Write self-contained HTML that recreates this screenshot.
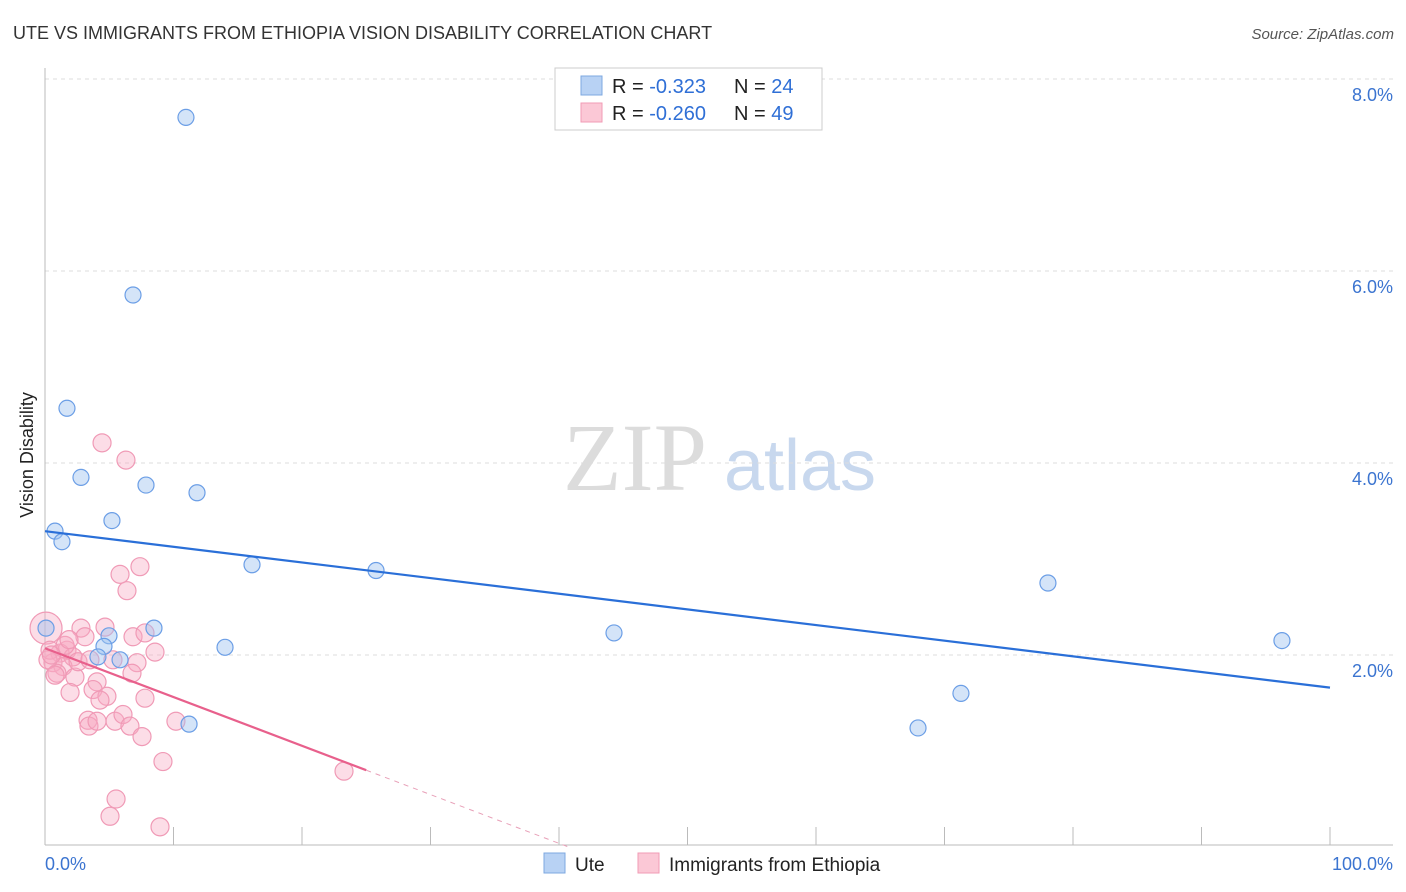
<!DOCTYPE html>
<html><head><meta charset="utf-8"><style>
body{margin:0;background:#fff;font-family:"Liberation Sans",sans-serif;}
svg{display:block}
</style></head><body>
<svg id="chart" width="1406" height="892">
<text x="13" y="39" font-size="18" fill="#333">UTE VS IMMIGRANTS FROM ETHIOPIA VISION DISABILITY CORRELATION CHART</text>
<text x="1394" y="39" font-size="15" fill="#555" font-style="italic" text-anchor="end">Source: ZipAtlas.com</text>
<text transform="translate(33,455) rotate(-90)" font-size="18" fill="#222" text-anchor="middle">Vision Disability</text>
<g>
<text x="635" y="490" font-size="96" fill="#dcdcdc" font-family="Liberation Serif,serif" text-anchor="middle">ZIP</text>
<text x="800" y="490" font-size="72" fill="#c8d8ee" text-anchor="middle">atlas</text>
</g>
<g id="grid"></g><g id="axes"></g><g id="marks"></g>
<g>
<rect x="555" y="68" width="267" height="62" fill="#fff" stroke="#ccc"/>
<rect x="581" y="76" width="21" height="19" fill="#b8d2f4" stroke="#7ea8e0"/>
<rect x="581" y="103" width="21" height="19" fill="#fbc8d6" stroke="#f19bb5"/>
<text x="612" y="93" font-size="20" fill="#222">R = <tspan fill="#2f6fd6">-0.323</tspan><tspan x="734">N = </tspan><tspan fill="#2f6fd6">24</tspan></text>
<text x="612" y="120" font-size="20" fill="#222">R = <tspan fill="#2f6fd6">-0.260</tspan><tspan x="734">N = </tspan><tspan fill="#2f6fd6">49</tspan></text>
</g>
<g>
<rect x="544" y="853" width="21" height="20" fill="#b8d2f4" stroke="#7ea8e0"/>
<text x="575" y="871" font-size="19" fill="#222">Ute</text>
<rect x="638" y="853" width="21" height="20" fill="#fbc8d6" stroke="#f19bb5"/>
<text x="669" y="871" font-size="19" fill="#222">Immigrants from Ethiopia</text>
</g>
<text x="45" y="870" font-size="18" fill="#3b74d0">0.0%</text>
<text x="1393" y="870" font-size="18" fill="#3b74d0" text-anchor="end">100.0%</text>
</svg>
<script>
const yTicks=[2,4,6,8];
const yTickLabels=["2.0%","4.0%","6.0%","8.0%"];
const xTicks=[10,20,30,40,50,60,70,80,90,100];
const uteX=[10.97,6.85,1.71,2.80,7.86,11.83,5.21,0.78,1.32,16.11,25.76,78.05,8.48,0.08,4.98,44.28,4.59,14.01,96.26,4.12,5.84,71.28,11.21,67.94];
const uteY=[7.60,5.75,4.57,3.85,3.77,3.69,3.40,3.29,3.18,2.94,2.88,2.75,2.28,2.28,2.20,2.23,2.09,2.08,2.15,1.98,1.95,1.60,1.28,1.24];
const ethX=[4.44,6.30,5.84,7.39,6.38,0.08,2.80,4.67,3.11,6.85,7.78,8.56,1.71,1.17,2.18,0.62,1.40,0.93,2.33,5.29,7.16,6.77,4.05,1.95,3.74,4.82,4.28,7.78,3.35,3.42,4.05,5.45,6.07,6.61,7.55,10.19,9.18,23.27,5.53,5.06,8.95,0.39,1.56,0.23,2.57,1.87,0.78,3.50,0.5];
const ethY=[4.21,4.03,2.84,2.92,2.67,2.28,2.28,2.29,2.19,2.19,2.23,2.03,2.05,2.02,1.98,1.92,1.88,1.81,1.77,1.95,1.92,1.81,1.72,1.61,1.64,1.57,1.53,1.55,1.32,1.26,1.31,1.31,1.38,1.26,1.15,1.31,0.89,0.79,0.50,0.32,0.21,2.05,2.10,1.95,1.93,2.16,1.79,1.95,2.0];
const uteTrend=[3.29,1.66];   // y at x=0 and x=100
const ethTrend=[2.07,-0.0508]; // intercept, slope per %
const NS="http://www.w3.org/2000/svg";
const X=v=>45+v*12.85, Y=v=>847-v*96;
function mk(tag,attrs,parent){const e=document.createElementNS(NS,tag);for(const k in attrs)e.setAttribute(k,attrs[k]);parent.appendChild(e);return e;}
const grid=document.getElementById('grid'),axes=document.getElementById('axes'),marks=document.getElementById('marks');
yTicks.forEach((t,i)=>{
 const l=mk('line',{x1:45,x2:1393,y1:Y(t),y2:Y(t),stroke:'#ddd','stroke-dasharray':'4,4'},grid);
 
 
 const tx=mk('text',{x:1393,y:Y(t)+22,'font-size':18,fill:'#3b74d0','text-anchor':'end'},axes);
 tx.textContent=yTickLabels[i];
 
 
});
const al=mk('line',{x1:45,x2:45,y1:68,y2:845,stroke:'#bbb'},axes);


const bl=mk('line',{x1:45,x2:1393,y1:845,y2:845,stroke:'#bbb'},axes);


xTicks.forEach(t=>{
 const l=mk('line',{x1:X(t),x2:X(t),y1:827,y2:845,stroke:'#bbb'},axes);
 
 
});
// ethiopia points
ethX.forEach((x,i)=>{
 const r=(i===5)?16:9;
 const c=mk('circle',{cx:X(x),cy:Y(ethY[i]),r:r,fill:'rgba(248,170,195,0.4)',stroke:'#f09ab6','stroke-width':1.2},marks);
 
 
});
uteX.forEach((x,i)=>{
 const c=mk('circle',{cx:X(x),cy:Y(uteY[i]),r:8,fill:'rgba(160,195,240,0.45)',stroke:'#6b9ee6','stroke-width':1.2},marks);
 
 
});
const ut=mk('line',{x1:X(0),y1:Y(uteTrend[0]),x2:X(100),y2:Y(uteTrend[1]),stroke:'#2a6fd8','stroke-width':2.2},marks);


const xEnd=25, xZero=-ethTrend[0]/ethTrend[1];
const et=mk('line',{x1:X(0),y1:Y(ethTrend[0]),x2:X(xEnd),y2:Y(ethTrend[0]+ethTrend[1]*xEnd),stroke:'#e8608c','stroke-width':2.2},marks);


const ed=mk('line',{x1:X(xEnd),y1:Y(ethTrend[0]+ethTrend[1]*xEnd),x2:X(xZero),y2:Y(0),stroke:'#e8a0b8','stroke-width':1,'stroke-dasharray':'5,5'},marks);


</script>
</body></html>
